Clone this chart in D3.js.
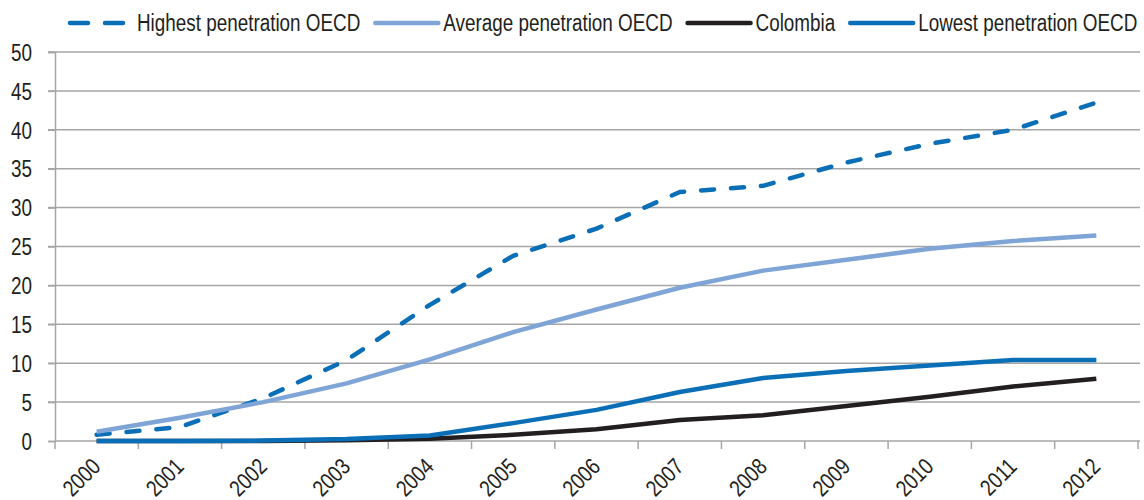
<!DOCTYPE html>
<html>
<head>
<meta charset="utf-8">
<script src="https://cdn.jsdelivr.net/npm/d3@7"></script>
<style>
  html, body { margin: 0; padding: 0; background: #fff; }
  svg { display: block; }
</style>
</head>
<body>
<svg id="chart" width="1144" height="500"></svg>
<script>
const years = ["2000","2001","2002","2003","2004","2005","2006","2007","2008","2009","2010","2011","2012"];
const highest = [0.8, 1.8, 5.5, 10.4, 17.5, 23.8, 27.3, 32.0, 32.8, 35.8, 38.2, 40.0, 43.5];
const average = [1.2, 3.0, 5.0, 7.4, 10.5, 14.0, 16.9, 19.7, 21.9, 23.3, 24.7, 25.7, 26.4];
const colombia = [0.0, 0.0, 0.0, 0.1, 0.3, 0.8, 1.5, 2.7, 3.3, 4.5, 5.7, 7.0, 8.0];
const lowest = [0.0, 0.0, 0.05, 0.25, 0.7, 2.3, 4.0, 6.3, 8.1, 9.0, 9.7, 10.4, 10.4];
const yTicks = [0, 5, 10, 15, 20, 25, 30, 35, 40, 45, 50];
const seriesNames = ["Highest penetration OECD", "Average penetration OECD", "Colombia", "Lowest penetration OECD"];

(function () {
const series = [
  { name: seriesNames[0], values: highest, color: "#0b6fb8", dash: true },
  { name: seriesNames[1], values: average, color: "#7fa5d6", dash: false },
  { name: seriesNames[2], values: colombia, color: "#231f20", dash: false },
  { name: seriesNames[3], values: lowest, color: "#0b6fb8", dash: false }
];

const svg = d3.select("#chart");
const FONT = "'Liberation Sans Narrow', 'Arial Narrow', 'Liberation Sans', Arial, sans-serif";
const FS = 23;
svg.style("font-family", FONT);

// detect whether a narrow face is available
const probeA = svg.append("text").style("font-family", "'Liberation Sans Narrow', 'Arial Narrow', 'Liberation Sans'").attr("font-size", 40).text("Highest penetration");
const probeB = svg.append("text").style("font-family", "'Liberation Sans'").attr("font-size", 40).text("Highest penetration");
const narrowOK = probeA.node().getComputedTextLength() < probeB.node().getComputedTextLength() * 0.95;
probeA.remove(); probeB.remove();
function narrowize(sel) {
  if (narrowOK) return;
  sel.each(function () {
    const len = this.getComputedTextLength();
    d3.select(this).attr("textLength", len * 0.82).attr("lengthAdjust", "spacingAndGlyphs");
  });
}

const mLeft = 55, mRight = 1138, mTop = 52, mBottom = 441;
const gridColor = "#a6a6a6";
const textColor = "#231f20";

const x = d3.scaleBand().domain(years).range([mLeft, mRight]).padding(0);
const y = d3.scaleLinear().domain([0, 50]).range([mBottom, mTop]);

// gridlines
svg.append("g").selectAll("line").data(yTicks.filter(d => d > 0)).join("line")
  .attr("x1", mLeft - 7).attr("x2", 1140)
  .attr("y1", d => y(d)).attr("y2", d => y(d))
  .attr("stroke", gridColor).attr("stroke-width", 1.5);

// y axis
const yAxis = svg.append("g").attr("transform", `translate(${mLeft},0)`)
  .call(d3.axisLeft(y).tickValues(yTicks).tickSize(7).tickPadding(16).tickFormat(d3.format("d")));
yAxis.select(".domain").attr("stroke", gridColor).attr("stroke-width", 1.5);
yAxis.selectAll(".tick line").attr("stroke", gridColor).attr("stroke-width", 1.5);
yAxis.attr("font-family", null).attr("font-size", null);
const yLabels = yAxis.selectAll(".tick text").attr("font-size", FS).attr("fill", textColor)
  .attr("dy", "0.36em");
narrowize(yLabels);

// x axis line
svg.append("line").attr("x1", mLeft).attr("x2", 1140).attr("y1", mBottom).attr("y2", mBottom)
  .attr("stroke", gridColor).attr("stroke-width", 1.5);
// x ticks at band boundaries
const bounds = years.map(d => x(d)).concat([x(years[years.length - 1]) + x.bandwidth()]);
svg.append("g").selectAll("line").data(bounds).join("line")
  .attr("x1", d => d).attr("x2", d => d).attr("y1", mBottom).attr("y2", mBottom + 8)
  .attr("stroke", gridColor).attr("stroke-width", 1.5);
// x labels
const xLabels = svg.append("g").selectAll("text").data(years).join("text")
  .attr("transform", d => `translate(${x(d) + x.bandwidth() / 2 - 7},${mBottom + 15}) rotate(-45)`)
  .attr("text-anchor", "end").attr("dy", "0.75em")
  .attr("font-size", FS).attr("fill", textColor)
  .text(d => d);
narrowize(xLabels);

// lines
const line = d3.line().x((d, i) => x(years[i]) + x.bandwidth() / 2).y(d => y(d));
svg.append("g").selectAll("path").data(series).join("path")
  .attr("d", d => line(d.values))
  .attr("fill", "none")
  .attr("stroke", d => d.color)
  .attr("stroke-width", 4.5)
  .attr("stroke-linejoin", "round")
  .attr("stroke-linecap", d => d.dash ? "round" : "butt")
  .attr("stroke-dasharray", d => d.dash ? "13,17" : null);

// legend
const leg = svg.append("g");
let lx = 68;
const ly = 23;
series.forEach((s) => {
  const g = leg.append("g");
  if (s.dash) {
    g.append("line").attr("x1", lx + 2).attr("x2", lx + 20).attr("y1", ly).attr("y2", ly)
      .attr("stroke", s.color).attr("stroke-width", 4.5).attr("stroke-linecap", "round");
    g.append("line").attr("x1", lx + 37).attr("x2", lx + 55).attr("y1", ly).attr("y2", ly)
      .attr("stroke", s.color).attr("stroke-width", 4.5).attr("stroke-linecap", "round");
    lx += 69;
  } else {
    g.append("line").attr("x1", lx).attr("x2", lx + 63).attr("y1", ly).attr("y2", ly)
      .attr("stroke", s.color).attr("stroke-width", 4.5).attr("stroke-linecap", "round");
    lx += 68;
  }
  const t = g.append("text").attr("x", lx).attr("y", ly).attr("dy", "0.36em")
    .attr("font-size", FS).attr("fill", textColor).text(s.name);
  narrowize(t);
  const w = narrowOK ? t.node().getComputedTextLength() : +t.attr("textLength");
  lx += w + 15;
});
})();
</script>
</body>
</html>
